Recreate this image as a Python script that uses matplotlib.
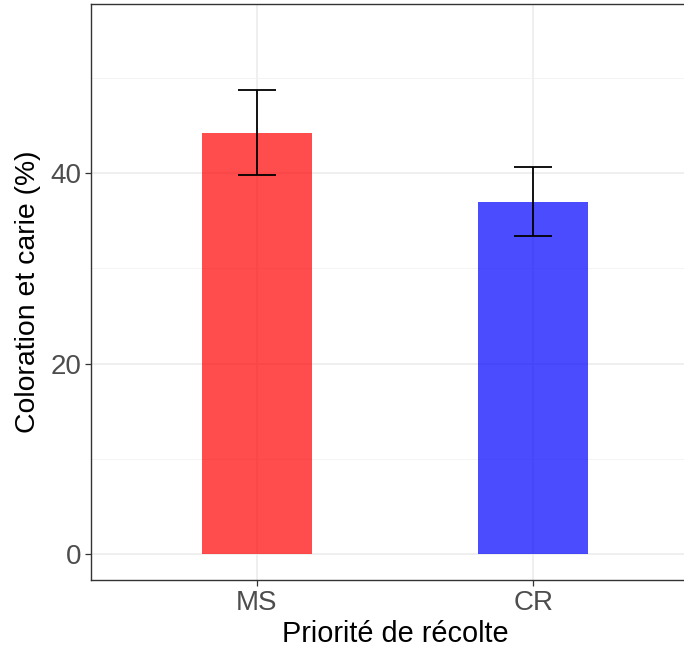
import matplotlib
matplotlib.use("Agg")
import matplotlib.pyplot as plt
from matplotlib.ticker import MultipleLocator

# Harvest priority groups: mean and standard error of staining/decay (%)
groups = ["MS", "CR"]
means = [44.26, 37.0]
errors = [4.49, 3.64]
colors = ["#FF0000", "#0000FF"]
y_ticks = [0, 20, 40]

plt.rcParams["font.family"] = ["Liberation Sans", "DejaVu Sans"]

W, H = 684, 647
fig = plt.figure(figsize=(W / 100, H / 100), dpi=100)
ax = fig.add_axes([91 / W, (H - 580) / H, (699 - 91) / W, (580 - 4.4) / H])

x = list(range(1, len(groups) + 1))
ax.bar(x, means, width=0.4, color=colors, alpha=0.7, zorder=2, linewidth=0)
ax.errorbar(x, means, yerr=errors, fmt="none", ecolor="black",
            elinewidth=1.3, capsize=14, capthick=1.3, zorder=3)

ax.set_xlim(0.4, 2.6)
ax.set_ylim(-2.75, 57.75)
ax.set_xticks(x)
ax.set_xticklabels(groups)
ax.set_yticks(y_ticks)
ax.yaxis.set_minor_locator(MultipleLocator(10))

ax.grid(which="major", color="#EBEBEB", linewidth=1.1, zorder=0)
ax.grid(which="minor", axis="y", color="#F2F2F2", linewidth=0.6, zorder=0)
ax.set_axisbelow(True)

for s in ax.spines.values():
    s.set_color("#333333")
    s.set_linewidth(1.0)

ax.tick_params(which="major", length=4, width=0.9, color="#333333",
               labelcolor="#4D4D4D", labelsize=20, pad=3)
ax.tick_params(which="minor", length=0)

ax.set_xlabel("Priorité de récolte", fontsize=20.8, color="black", labelpad=3)
ax.set_ylabel("Coloration et carie (%)", fontsize=20.4, color="black", labelpad=7)

fig.savefig("out.png", dpi=100, facecolor="white")
